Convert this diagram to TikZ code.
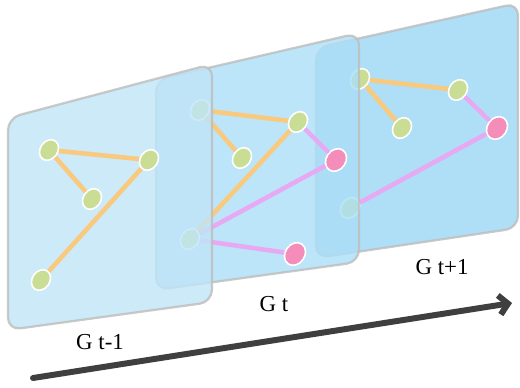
\documentclass[tikz,border=0pt]{standalone}
\usepackage{fontspec}
\setmainfont{Liberation Serif}
\usetikzlibrary{arrows.meta,shapes.geometric}
\definecolor{planeA}{HTML}{C0E5F8}
\definecolor{planeB}{HTML}{ACDFF7}
\definecolor{planeC}{HTML}{9AD7F4}
\definecolor{planeline}{HTML}{BDBDBD}
\definecolor{nodegreen}{HTML}{C9DE94}
\definecolor{nodepink}{HTML}{F48DBA}
\definecolor{edgeorange}{HTML}{F9C97E}
\definecolor{edgeviolet}{HTML}{E6A9F2}
\definecolor{arrowgrey}{HTML}{3F3F3F}
\tikzset{plane/.style={draw=planeline,line width=1.3pt,rounded corners=7pt,opacity=0.8},vgreen/.style={ellipse,draw=white,line width=0.9pt,fill=nodegreen,minimum width=0.44cm,minimum height=0.35cm,inner sep=0pt,rotate=55},vpink/.style={vgreen,fill=nodepink,minimum width=0.48cm,minimum height=0.39cm},eorange/.style={draw=edgeorange,line width=2.6pt},eviolet/.style={draw=edgeviolet,line width=2.6pt},glabel/.style={font=\fontsize{13}{15}\selectfont}}

\begin{document}
\begin{tikzpicture}[x=0.02cm,y=-0.02cm]
\useasboundingbox (0,0) rectangle (520,388);
\draw[plane,fill=planeC] (316,48)--(518,3)--(518,228)--(316,258)--cycle;
\node[vgreen] (k) at (360,79) {};
\node[vgreen] (l) at (458,90) {};
\node[vgreen] (m) at (402,128) {};
\node[vpink] (n) at (497,128) {};
\node[vgreen] (o) at (350,208) {};
\draw[eorange] (k)--(l);
\draw[eorange] (k)--(m);
\draw[eviolet] (l)--(n);
\draw[eviolet] (n)--(o);
\draw[plane,fill=planeB] (156,80)--(359,33)--(359,262)--(156,290)--cycle;
\node[vgreen] (e) at (200,110) {};
\node[vgreen] (f) at (298,122) {};
\node[vgreen] (g) at (242,158) {};
\node[vgreen] (h) at (190,239) {};
\node[vpink] (i) at (336,160) {};
\node[vpink] (j) at (295,254) {};
\draw[eorange] (e)--(f);
\draw[eorange] (e)--(g);
\draw[eorange] (f)--(h);
\draw[eviolet] (f)--(i);
\draw[eviolet] (h)--(i);
\draw[eviolet] (h)--(j);
\draw[plane,fill=planeA] (8,118)--(212,64)--(212,302)--(8,330)--cycle;
\node[vgreen] (a) at (49,150) {};
\node[vgreen] (b) at (149,160) {};
\node[vgreen] (c) at (92,199) {};
\node[vgreen] (d) at (41,280) {};
\draw[eorange] (a)--(b);
\draw[eorange] (a)--(c);
\draw[eorange] (b)--(d);
\node[glabel] (lblA) at (100,342) {G t-1};
\node[glabel] (lblB) at (274,304) {G t};
\node[glabel] (lblC) at (442,267) {G t+1};
\coordinate (tstart) at (33,378);
\coordinate (tend) at (512,303);
\draw[arrowgrey,line width=3.4pt,line cap=round,-{Straight Barb[length=5pt,width=11pt]}] (tstart)--(tend);
\end{tikzpicture}
\end{document}
